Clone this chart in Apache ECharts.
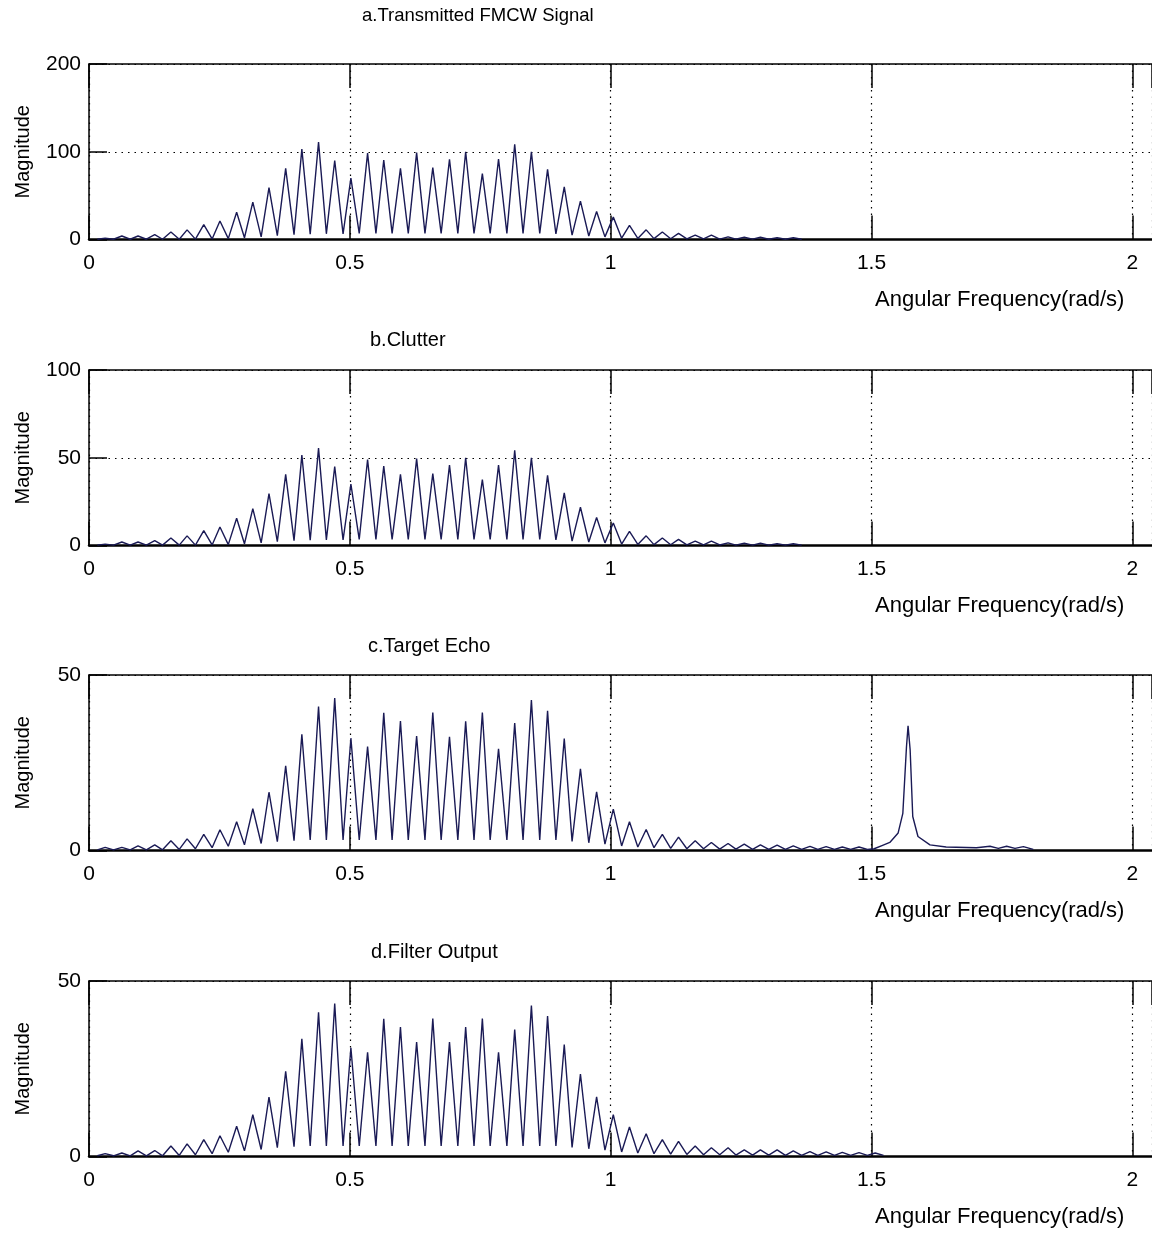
<!doctype html>
<html lang="en">
<head>
    <meta charset="UTF-8">
    <title>FMCW spectra</title>
    <script type="text/javascript" src="https://cdn.jsdelivr.net/npm/echarts@6.0.0/dist/echarts.min.js"></script>
    <style>
        html, body { margin: 0; padding: 0; background: #fff; }
        #main { width: 1152px; height: 1237px; }
    </style>
</head>
<body>
<div id="main"></div>
<script type="text/javascript">
    // comb line positions (rad/s), peaks and the dips between them
    var peakFreq = [0.031, 0.063, 0.094, 0.126, 0.157, 0.188, 0.220, 0.251, 0.283, 0.314,
        0.345, 0.377, 0.408, 0.440, 0.471, 0.502, 0.534, 0.565, 0.597, 0.628,
        0.659, 0.691, 0.722, 0.754, 0.785, 0.816, 0.848, 0.879, 0.911, 0.942,
        0.973, 1.005, 1.036, 1.068, 1.099, 1.130, 1.162, 1.193, 1.225, 1.256,
        1.287, 1.319, 1.350, 1.382, 1.413, 1.444, 1.476, 1.507];
    var dipFreq = [0.016, 0.047, 0.079, 0.110, 0.141, 0.173, 0.204, 0.236, 0.267, 0.298,
        0.330, 0.361, 0.393, 0.424, 0.455, 0.487, 0.518, 0.550, 0.581, 0.612,
        0.644, 0.675, 0.707, 0.738, 0.769, 0.801, 0.832, 0.864, 0.895, 0.926,
        0.958, 0.989, 1.021, 1.052, 1.083, 1.115, 1.146, 1.178, 1.209, 1.240,
        1.272, 1.303, 1.335, 1.366, 1.397, 1.429, 1.460, 1.492, 1.523];

    // a. transmitted signal
    var peaksA = [1.5, 4, 4, 5.5, 8.6, 11, 17, 21, 31, 42.5,
        59, 81, 103, 111, 90, 70, 98.5, 90.6, 81, 99,
        82, 91.5, 100, 75, 91.7, 108.5, 100, 80, 60, 43.7,
        32, 25.5, 16, 11, 8.6, 7, 5, 5, 3, 2.5,
        2.5, 2, 2];
    var dipsA = [0.3, 0.3, 0.3, 0.3, 0.3, 0.3, 0.4, 0.6, 1, 2,
        3, 4.5, 5.5, 6, 6.5, 6.5, 7, 7, 7, 7,
        7, 7, 7, 7, 7, 7, 7, 7, 6.5, 5,
        4, 3, 1.5, 1.2, 1, 0.8, 0.7, 0.6, 0.5, 0.4,
        0.4, 0.3, 0.3, 0.3];

    // b. clutter
    var peaksB = [0.8, 2, 2, 2.8, 4.3, 5.5, 8.5, 10.5, 15.5, 21,
        29.5, 40.5, 51.5, 55.5, 45, 35, 49, 45.3, 40.5, 49.5,
        41, 45.8, 50, 37.5, 45.8, 54.3, 50, 40, 30, 21.8,
        16, 12.8, 8, 5.5, 4.3, 3.5, 2.5, 2.5, 1.5, 1.3,
        1.3, 1, 1];
    var dipsB = [0.2, 0.2, 0.2, 0.2, 0.2, 0.2, 0.2, 0.3, 0.5, 1,
        1.5, 2.2, 2.8, 3, 3.2, 3.2, 3.5, 3.5, 3.5, 3.5,
        3.5, 3.5, 3.5, 3.5, 3.5, 3.5, 3.5, 3.5, 3.2, 2.5,
        2, 1.5, 0.8, 0.6, 0.5, 0.4, 0.4, 0.3, 0.3, 0.2,
        0.2, 0.2, 0.2, 0.2];

    // c. target echo (comb + target line near pi/2)
    var peaksC = [0.9, 0.9, 1.3, 1.6, 2.8, 3.3, 4.6, 5.9, 8.2, 11.9,
        16.6, 24.1, 33.1, 41, 43.4, 32, 29.6, 39.2, 36.9, 32.6,
        39.3, 32.4, 36.8, 39.3, 29, 36.3, 42.9, 39.8, 31.9, 23.3,
        16.7, 11.8, 8.2, 6, 4.6, 3.8, 2.8, 2.3, 2, 1.8,
        1.6, 1.5, 1.3, 1.2, 1.1, 1, 1];
    var dipsC = [0.2, 0.2, 0.2, 0.2, 0.2, 0.3, 0.5, 0.8, 1.2, 1.6,
        2, 2.5, 2.8, 3, 3, 3, 3, 3, 3, 3,
        3, 3, 3, 3, 3, 3, 3, 3, 3, 2.6,
        2.2, 1.8, 1.3, 1, 0.8, 0.6, 0.5, 0.5, 0.4, 0.4,
        0.3, 0.3, 0.3, 0.3, 0.3, 0.3, 0.3, 0.3];
    var targetFreq = [1.505, 1.520, 1.535, 1.551, 1.560, 1.567, 1.570, 1.574, 1.579, 1.589,
        1.612, 1.643, 1.701, 1.727, 1.743, 1.759, 1.775, 1.791, 1.810];
    var targetMag = [0.5, 1.4, 2.3, 5, 10.6, 29.6, 35.5, 28.7, 9.7, 4,
        1.6, 1, 0.8, 1.2, 0.6, 1.2, 0.6, 1.1, 0.3];

    // d. filter output
    var peaksD = [0.8, 1, 1.6, 1.7, 3, 3.6, 4.8, 5.9, 8.6, 11.9,
        16.9, 24.3, 33.5, 41.1, 43.6, 31, 29.7, 39.2, 36.9, 32.6,
        39.3, 32.6, 36.9, 39.3, 29.7, 36.2, 43, 40, 31.9, 23.5,
        17, 11.9, 8.4, 6.5, 4.8, 4.3, 3, 2.5, 2.5, 1.9,
        1.9, 1.9, 1.6, 1.4, 1.3, 1.2, 1.1, 1];
    var dipsD = [0.2, 0.2, 0.2, 0.2, 0.2, 0.3, 0.5, 0.8, 1.2, 1.6,
        2, 2.5, 2.8, 3, 3, 3, 3, 3, 3, 3,
        3, 3, 3, 3, 3, 3, 3, 3, 3, 2.6,
        2.2, 1.8, 1.3, 1, 0.8, 0.7, 0.6, 0.5, 0.5, 0.4,
        0.4, 0.4, 0.3, 0.3, 0.3, 0.3, 0.3, 0.3, 0.3];

    var titles = ['a.Transmitted FMCW Signal', 'b.Clutter', 'c.Target Echo', 'd.Filter Output'];
    var yMax = [200, 100, 50, 50];
    var yStep = [100, 50, 50, 50];
    var xName = 'Angular Frequency(rad/s)';
    var yName = 'Magnitude';

    // dip, peak, dip, peak ... dip
    function comb(peaks, dips) {
        var pts = [];
        for (var i = 0; i < peaks.length; i++) {
            pts.push([dipFreq[i], dips[i]]);
            pts.push([peakFreq[i], peaks[i]]);
        }
        pts.push([dipFreq[peaks.length], dips[peaks.length]]);
        return pts;
    }

    var lineC = comb(peaksC, dipsC);
    for (var k = 0; k < targetFreq.length; k++) {
        lineC.push([targetFreq[k], targetMag[k]]);
    }
    var lines = [comb(peaksA, dipsA), comb(peaksB, dipsB), lineC, comb(peaksD, dipsD)];

    var font = '"Liberation Sans", Arial, sans-serif';
    var tops = [64, 370, 675, 981];
    var plotH = 175.5;
    var titleLeft = [362, 370, 368, 371];
    var titleTop = [6, 330, 636, 942];
    var titleSize = [18.5, 20, 20, 20];
    var xMax = 2.0376;

    var grid = [], xAxis = [], yAxis = [], series = [], title = [];
    for (var i = 0; i < 4; i++) {
        grid.push({left: 89, right: 0, top: tops[i], height: plotH});
        xAxis.push({
            type: 'value', gridIndex: i, min: 0, max: xMax, interval: 0.5,
            axisLine: {lineStyle: {color: '#000', width: 2.5}},
            axisTick: {inside: true, length: 24, lineStyle: {color: '#000', width: 1.5}},
            axisLabel: {color: '#000', fontSize: 21, fontFamily: font, margin: 13, showMaxLabel: false},
            splitLine: {show: true, lineStyle: {color: '#000', width: 1.2, type: [1.5, 5]}}
        });
        xAxis.push({
            type: 'value', gridIndex: i, position: 'top', min: 0, max: xMax, interval: 0.5,
            axisLine: {lineStyle: {color: '#000', width: 1.5}},
            axisTick: {inside: true, length: 24, lineStyle: {color: '#000', width: 1.5}},
            axisLabel: {show: false},
            splitLine: {show: false}
        });
        yAxis.push({
            type: 'value', gridIndex: i, min: 0, max: yMax[i], interval: yStep[i],
            name: yName, nameLocation: 'middle', nameGap: 56, nameRotate: 90,
            nameTextStyle: {color: '#000', fontSize: 20, fontFamily: font},
            axisLine: {show: true, lineStyle: {color: '#000', width: 1.5}},
            axisTick: {show: true, inside: true, length: 18, lineStyle: {color: '#000', width: 1.5}},
            axisLabel: {color: '#000', fontSize: 21, fontFamily: font, margin: 8},
            splitLine: {show: true, lineStyle: {color: '#000', width: 1.2, type: [1.5, 5]}}
        });
        series.push({
            type: 'line', xAxisIndex: 2 * i, yAxisIndex: i,
            showSymbol: false, silent: true,
            lineStyle: {color: '#1a1a55', width: 1.4},
            data: lines[i]
        });
        title.push({
            text: titles[i], left: titleLeft[i], top: titleTop[i], padding: 0,
            textStyle: {color: '#000', fontSize: titleSize[i], fontWeight: 'normal', fontFamily: font}
        });
        title.push({
            text: xName, left: 875, top: tops[i] + plotH + 49.5, padding: 0,
            textStyle: {color: '#000', fontSize: 22, fontWeight: 'normal', fontFamily: font}
        });
    }

    var myChart = echarts.init(document.getElementById('main'));
    myChart.setOption({
        animation: false,
        backgroundColor: '#fff',
        title: title,
        grid: grid,
        xAxis: xAxis,
        yAxis: yAxis,
        series: series
    });
</script>
</body>
</html>
